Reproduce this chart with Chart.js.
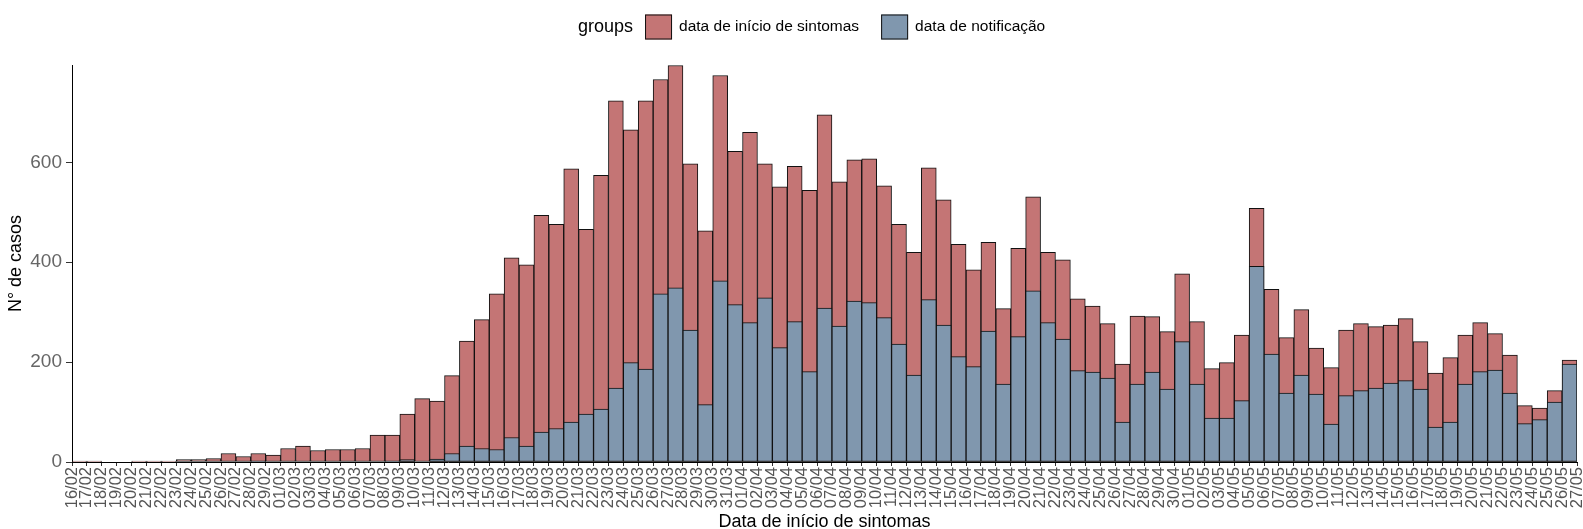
<!DOCTYPE html>
<html>
<head>
<meta charset="utf-8">
<script src="https://cdn.jsdelivr.net/npm/chart.js@4.4.1/dist/chart.umd.min.js"></script>
<style>body{margin:0;background:#fff}</style>
</head>
<body>
<canvas id="myChart" width="1583" height="529"></canvas>
<script>
// tick labels sit on the bar edges (each bar covers one day)
const tickLabels = [
  '16/02','17/02','18/02','19/02','20/02','21/02','22/02','23/02','24/02','25/02','26/02','27/02','28/02','29/02',
  '01/03','02/03','03/03','04/03','05/03','06/03','07/03','08/03','09/03','10/03','11/03','12/03','13/03','14/03',
  '15/03','16/03','17/03','18/03','19/03','20/03','21/03','22/03','23/03','24/03','25/03','26/03','27/03','28/03',
  '29/03','30/03','31/03',
  '01/04','02/04','03/04','04/04','05/04','06/04','07/04','08/04','09/04','10/04','11/04','12/04','13/04','14/04',
  '15/04','16/04','17/04','18/04','19/04','20/04','21/04','22/04','23/04','24/04','25/04','26/04','27/04','28/04',
  '29/04','30/04',
  '01/05','02/05','03/05','04/05','05/05','06/05','07/05','08/05','09/05','10/05','11/05','12/05','13/05','14/05',
  '15/05','16/05','17/05','18/05','19/05','20/05','21/05','22/05','23/05','24/05','25/05','26/05','27/05'
];

const inicioSintomas = [
  2, 2, 0, 0, 2, 2, 2, 5, 5, 7, 17, 11, 17, 14,
  27, 32, 23, 25, 25, 27, 54, 54, 96, 127, 122, 173, 242, 285,
  337, 409, 395, 494, 476, 587, 466, 574, 723, 665, 723, 766, 794, 597,
  463, 774, 622,
  660, 597, 551, 592, 544, 695, 561, 605, 607, 553, 476, 420, 589, 525,
  436, 385, 440, 307, 428, 531, 420, 405, 327, 312, 277, 196, 292, 291,
  261, 377,
  281, 187, 199, 254, 508, 346, 249, 305, 228, 189, 264, 277, 271, 274,
  287, 241, 178, 209, 254, 279, 257, 214, 113, 108, 143, 204
];

const notificacao = [
  0, 0, 0, 0, 0, 0, 0, 0, 0, 0, 0, 0, 2, 0,
  0, 0, 0, 0, 0, 0, 0, 2, 5, 0, 6, 17, 32, 27,
  25, 49, 32, 60, 67, 80, 96, 106, 148, 199, 186, 337, 349, 264,
  115, 363, 315,
  279, 329, 229, 281, 181, 308, 272, 322, 319, 289, 236, 174, 325, 274,
  211, 191, 262, 156, 251, 343, 279, 246, 183, 180, 168, 80, 156, 180,
  146, 241,
  156, 88, 88, 123, 392, 216, 138, 174, 136, 76, 133, 143, 148, 158,
  163, 146, 70, 80, 156, 181, 184, 138, 77, 85, 120, 196
];

const yTicks = [0, 200, 400, 600];
const yMax = 795;

const FONT = "'Liberation Sans', Arial, sans-serif";

// ggplot style legend: title and keys on one row
const ggLegend = {
  id: 'ggLegend',
  afterDraw(chart) {
    const ctx = chart.ctx;
    const cy = 27;
    let x = 578;
    ctx.save();
    ctx.textBaseline = 'middle';
    ctx.fillStyle = '#000';
    ctx.font = '18px ' + FONT;
    ctx.fillText('groups', x, cy);
    x += ctx.measureText('groups').width + 12;
    ctx.font = '15.5px ' + FONT;
    chart.data.datasets.forEach(ds => {
      ctx.fillStyle = ds.backgroundColor;
      ctx.fillRect(x, cy - 12.5, 27, 25);
      ctx.strokeStyle = '#111';
      ctx.lineWidth = 1;
      ctx.strokeRect(x + 0.5, cy - 12, 26, 24);
      x += 27 + 7;
      ctx.fillStyle = '#000';
      ctx.fillText(ds.label, x, cy);
      x += ctx.measureText(ds.label).width + 22;
    });
    ctx.restore();
  }
};

new Chart(document.getElementById('myChart').getContext('2d'), {
  type: 'bar',
  data: {
    datasets: [{
      label: 'data de início de sintomas',
      data: inicioSintomas.map((v, i) => ({ x: i + 0.5, y: v })),
      backgroundColor: '#C47575',
      order: 1
    }, {
      label: 'data de notificação',
      data: notificacao.map((v, i) => ({ x: i + 0.5, y: v })),
      backgroundColor: '#8097AE',
      order: 0
    }]
  },
  options: {
    responsive: false,
    animation: false,
    devicePixelRatio: 1,
    layout: { padding: { top: 65, right: 6, left: 0, bottom: 0 } },
    datasets: {
      bar: {
        grouped: false,
        barPercentage: 1,
        categoryPercentage: 1,
        borderWidth: 1,
        borderColor: '#111',
        borderSkipped: false
      }
    },
    plugins: { legend: { display: false }, tooltip: { enabled: false } },
    scales: {
      x: {
        type: 'linear',
        min: 0,
        max: tickLabels.length - 1,
        offset: false,
        afterBuildTicks: s => { s.ticks = tickLabels.map((_, i) => ({ value: i })); },
        afterFit: s => { s.height = 67; s.paddingLeft = 0; s.paddingRight = 0; },
        ticks: {
          autoSkip: false,
          minRotation: 90,
          maxRotation: 90,
          padding: 1,
          color: '#555',
          font: { size: 16.5, family: FONT },
          callback: v => tickLabels[v]
        },
        grid: { offset: false, drawOnChartArea: false, tickLength: 4, color: '#333' },
        border: { display: true, color: '#000', width: 1 },
        title: {
          display: true,
          text: 'Data de início de sintomas',
          color: '#000',
          font: { size: 18, family: FONT, lineHeight: 1 },
          padding: { top: 0, bottom: -2 }
        }
      },
      y: {
        min: 0,
        max: yMax,
        afterBuildTicks: s => { s.ticks = yTicks.map(v => ({ value: v })); },
        afterFit: s => { s.width = 72; s.paddingTop = 0; s.paddingBottom = 0; },
        ticks: { padding: 4, color: '#666', font: { size: 19, family: FONT } },
        grid: { drawOnChartArea: false, tickLength: 6, color: '#333' },
        border: { display: true, color: '#000', width: 1 },
        title: {
          display: true,
          text: 'N° de casos',
          color: '#000',
          font: { size: 18, family: FONT },
          padding: { top: 5, bottom: 0 }
        }
      }
    }
  },
  plugins: [ggLegend]
});
</script>
</body>
</html>
